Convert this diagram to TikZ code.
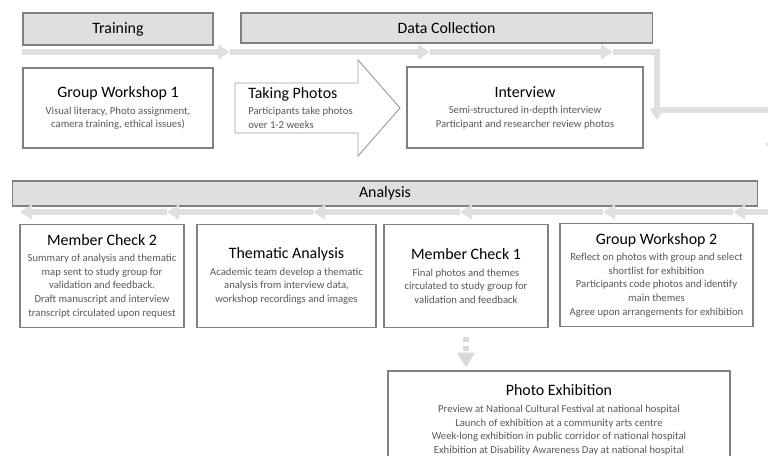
\documentclass[tikz,border=0pt]{standalone}
\usepackage{fontspec}
\setmainfont{Carlito}
\usetikzlibrary{arrows.meta}

\newcommand{\ttlfont}{\fontsize{11.3}{13.5}\selectfont}
\newcommand{\bodyfont}{\fontsize{7.6}{9.7}\selectfont}

\tikzset{
  hdr/.style={draw=gray, line width=0.8pt, fill=gray!25, font=\ttlfont, text=black},
  stagebox/.style={draw=gray, line width=0.9pt, fill=white, align=center, font=\bodyfont, text=black!65},
  flow/.style={draw=gray!25, line width=3.6pt, -{Triangle[length=0.3cm,width=0.36cm]}},
}

\newcommand{\ttl}[1]{{\ttlfont\color{black}#1}}

\begin{document}
\begin{tikzpicture}[x=0.025cm, y=-0.025cm]

  \useasboundingbox (0,0) rectangle (768,455);
  \clip (0,0) rectangle (768,455);

  % phase headers
  \node[hdr, minimum width=4.75cm, minimum height=0.8cm] (train) at (118,29) {Training};
  \node[hdr, minimum width=10.275cm, minimum height=0.75cm] (collect) at (446.5,28) {Data Collection};
  \node[hdr, minimum width=18.6cm, minimum height=0.625cm] (analysis) at (385,193.5) {Analysis};

  % flow line, top row then back along the bottom row
  \foreach \a/\b in {22/230, 230/430, 430/613}
    \draw[flow] (\a,52) -- (\b,52);
  \draw[flow] (613,52) -| (657,120);
  \draw[flow] (657,110) -| (773,155);
  \draw[flow] (773,155) |- (733,212);
  \foreach \a/\b in {733/603, 603/460, 460/313, 313/167, 167/20}
    \draw[flow] (\a,212) -- (\b,212);

  % top row
  \node[stagebox, minimum width=4.75cm, minimum height=2cm] (gw1) at (118,108)
    {\ttl{Group Workshop 1}\\[2pt] Visual literacy, Photo assignment,\\ camera training, ethical issues)};

  \draw[draw=gray!75, line width=0.7pt, fill=white]
    (235,83) -- (358,83) -- (358,60) -- (400,108) -- (358,156) -- (358,133) -- (235,133) -- cycle;
  \node[anchor=west, inner sep=0pt, align=left, font=\bodyfont, text=black!65] (photos) at (248,108)
    {\ttl{Taking Photos}\\[2pt] Participants take photos\\ over 1-2 weeks};

  \node[stagebox, minimum width=5.9cm, minimum height=2.025cm] (interview) at (525,107.5)
    {\ttl{Interview}\\[2pt] Semi-structured in-depth interview\\ Participant and researcher review photos};

  % bottom row
  \node[stagebox, minimum width=4.1cm, minimum height=2.575cm] (mc2) at (102,276)
    {\ttl{Member Check 2}\\[2pt] Summary of analysis and thematic\\ map sent to study group for\\ validation and feedback.\\ Draft manuscript and interview\\ transcript circulated upon request};
  \node[stagebox, minimum width=4.475cm, minimum height=2.575cm] (thematic) at (286.5,276)
    {\ttl{Thematic Analysis}\\[2pt] Academic team develop a thematic\\ analysis from interview data,\\ workshop\ recordings and images};
  \node[stagebox, minimum width=4.1cm, minimum height=2.575cm] (mc1) at (466,276)
    {\ttl{Member Check 1}\\[2pt] Final photos\ and themes\\ circulated to study group for\\ validation and feedback};
  \node[stagebox, minimum width=4.825cm, minimum height=2.575cm] (gw2) at (656.5,275)
    {\ttl{Group Workshop 2}\\[2pt] Reflect on photos\ with group and select\\ shortlist for exhibition\\ Participants code photos\ and identify\\ main themes\\ Agree upon arrangements for exhibition};

  % exhibition
  \node[stagebox, minimum width=8.55cm, minimum height=2.45cm] (exh) at (559,420)
    {\ttl{Photo Exhibition}\\[2pt] Preview at National Cultural Festival at national hospital\\ Launch of exhibition at a community arts centre\\ Week-long exhibition in public corridor of national hospital\\ Exhibition at Disability Awareness Day at national hospital};

  \draw[flow, draw=gray!30, dash pattern=on 3.5pt off 3.5pt, -{Triangle[length=0.37cm,width=0.42cm]},
    shorten <=6pt, shorten >=2pt] (mc1.south) -- (mc1.south |- exh.north);

\end{tikzpicture}
\end{document}
